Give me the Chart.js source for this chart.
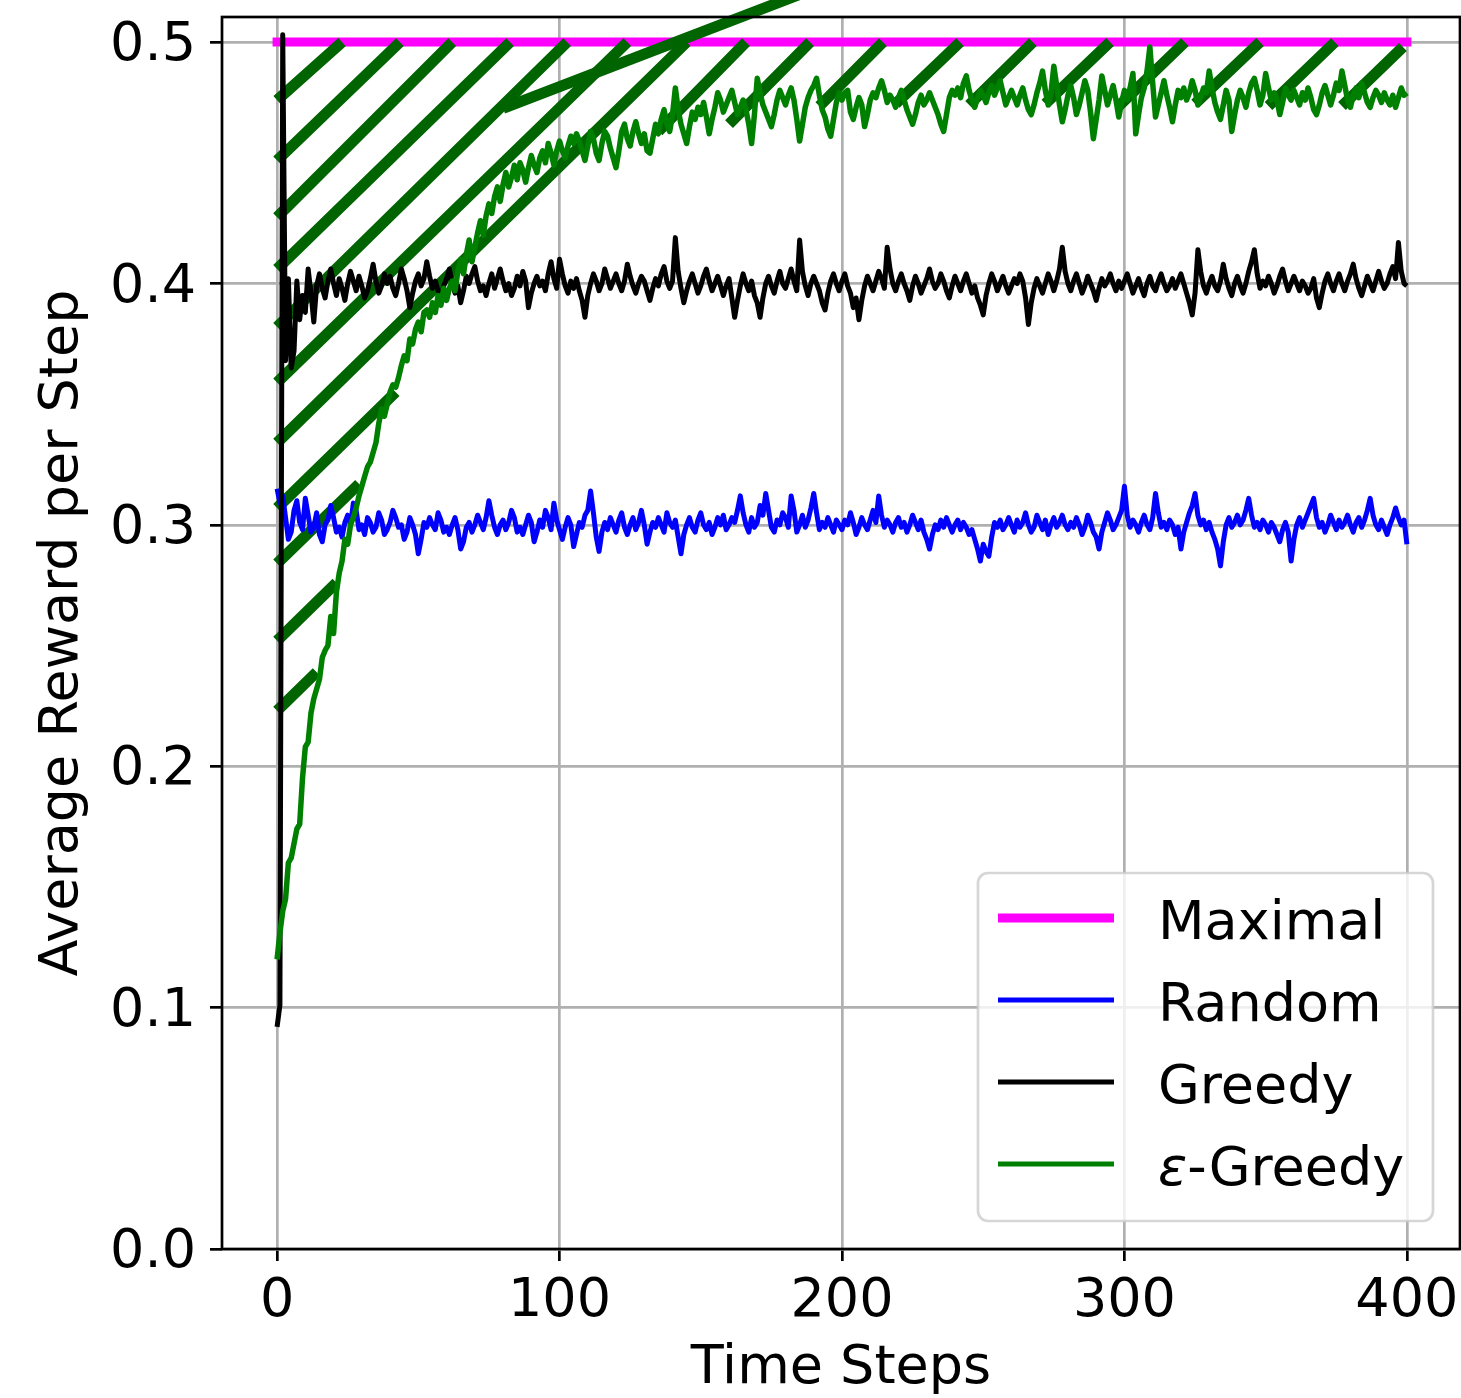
<!DOCTYPE html>
<html>
<head>
<meta charset="utf-8">
<script src="https://cdn.jsdelivr.net/npm/chart.js@4.4.1/dist/chart.umd.min.js"></script>
<style>
  html, body { margin: 0; padding: 0; background: #fff; }
</style>
</head>
<body>
<canvas id="chart" width="1461" height="1398"></canvas>
<script>
// Average reward per step for four bandit strategies, 400 time steps.
// Values are in thousandths, one per time step (index = step).

const FONT = 'DejaVu Sans';

const X_TICKS = [0, 100, 200, 300, 400];
const Y_TICKS = [0, 0.1, 0.2, 0.3, 0.4, 0.5];
const X_MIN = -19.5, X_MAX = 418.8;
const Y_MIN = 0, Y_MAX = 0.5104;

const MAXIMAL = [[0, 0.5], [400, 0.5]];

const RANDOM = [
  315, 309, 312, 303, 294, 297, 306, 310, 301, 298, 311, 304, 297, 299, 305, 296, 293, 300, 302, 308,
  303, 297, 299, 295, 301, 304, 300, 309, 306, 298, 300, 296, 303, 301, 297, 299, 305, 302, 296, 298,
  301, 306, 303, 299, 300, 294, 297, 303, 300, 296, 288, 294, 301, 299, 303, 300, 298, 305, 302, 297,
  299, 296, 300, 303, 298, 290, 293, 299, 301, 297, 300, 304, 301, 298, 303, 310, 304, 299, 296, 300,
  302, 298, 301, 306, 303, 297, 299, 296, 300, 304, 301, 293, 297, 302, 299, 306, 303, 298, 309, 302,
  298, 294, 299, 303, 300, 291, 296, 301, 299, 304, 306, 314, 305, 295, 289, 297, 301, 298, 303, 300,
  297, 302, 305, 299, 296, 300, 303, 298, 301, 306, 300, 292, 297, 301, 299, 303, 300, 297, 305, 301,
  299, 302, 295, 288, 296, 300, 303, 299, 297, 302, 305, 300, 298, 301, 296, 299, 303, 300, 304, 298,
  300, 303, 301, 306, 312, 305, 300, 297, 303, 299, 301, 308, 304, 313, 306, 299, 297, 302, 300, 305,
  303, 299, 312, 306, 297, 300, 304, 299, 302, 307, 313, 305, 298, 301, 299, 303, 300, 297, 302, 300,
  298, 302, 300, 305, 301, 296, 299, 303, 300, 298, 302, 306, 301, 312, 304, 299, 302, 300, 297, 301,
  303, 299, 301, 297, 300, 304, 301, 298, 302, 297, 294, 290, 296, 300, 298, 302, 299, 303, 300, 297,
  300, 302, 298, 301, 299, 296, 298, 294, 290, 285, 292, 289, 287, 295, 301, 299, 302, 298, 300, 303,
  300, 297, 302, 299, 301, 305, 300, 297, 299, 304, 301, 298, 302, 296, 300, 303, 299, 301, 304, 300,
  298, 301, 299, 303, 300, 296, 299, 304, 301, 297, 295, 290, 297, 301, 305, 302, 298, 300, 303, 306,
  316, 304, 299, 302, 300, 297, 301, 304, 300, 298, 303, 313, 305, 299, 301, 298, 302, 300, 296, 299,
  290, 297, 301, 305, 308, 313, 304, 300, 302, 298, 301, 297, 294, 290, 283, 293, 300, 303, 299, 301,
  304, 300, 302, 306, 311, 304, 299, 301, 298, 302, 300, 297, 301, 299, 296, 293, 298, 301, 297, 285,
  294, 300, 303, 299, 302, 305, 308, 311, 303, 299, 301, 297, 300, 304, 301, 298, 302, 299, 301, 304,
  300, 297, 301, 303, 299, 302, 306, 311, 304, 300, 298, 302, 299, 296, 300, 303, 307, 303, 300, 302,
  292
];

const GREEDY = [
  92, 101, 503, 368, 402, 365, 372, 401, 385, 395, 388, 406, 396, 384, 399, 404, 398, 394, 401, 406,
  400, 395, 402, 398, 393, 400, 405, 401, 397, 403, 399, 394, 397, 402, 408, 401, 396, 399, 404, 400,
  403, 398, 395, 400, 406, 402, 397, 390, 396, 401, 404, 399, 402, 409, 403, 398, 401, 397, 394, 399,
  402, 406, 400, 396, 399, 392, 397, 403, 400, 404, 407, 401, 397, 399, 395, 400, 404, 398, 402, 406,
  401, 397, 400, 395, 398, 403, 399, 405, 401, 390, 396, 400, 403, 399, 401, 397, 404, 409, 402, 398,
  410, 404, 399, 396, 401, 398, 402, 397, 393, 386, 395, 400, 404, 401, 397, 400, 406, 402, 398, 401,
  404, 400, 397, 401, 408, 403, 399, 396, 400, 403, 401, 397, 393, 398, 402, 399, 404, 407, 401, 398,
  401, 419, 405, 398, 392, 397, 401, 404, 400, 396, 399, 403, 406, 401, 397, 400, 403, 399, 395, 399,
  402, 394, 386, 393, 399, 404, 400, 397, 401, 395, 392, 386, 394, 400, 403, 399, 396, 401, 405, 400,
  398, 402, 406, 401, 397, 418, 405, 399, 395, 400, 403, 400, 397, 392, 389, 396, 401, 404, 400, 397,
  401, 404, 399, 396, 390, 394, 385, 393, 399, 403, 400, 397, 401, 405, 402, 398, 415, 406, 400, 397,
  401, 404, 400, 397, 393, 399, 403, 400, 396, 399, 402, 406, 401, 398, 400, 404, 401, 397, 394, 399,
  403, 400, 397, 401, 404, 400, 396, 399, 394, 391, 387, 395, 400, 404, 401, 397, 400, 403, 399, 396,
  399, 402, 400, 404, 401, 394, 383, 392, 398, 402, 399, 396, 400, 404, 401, 397, 401, 406, 415, 405,
  400, 397, 401, 404, 400, 396, 399, 403, 400, 397, 393, 398, 402, 399, 401, 404, 400, 397, 401, 398,
  401, 404, 400, 396, 399, 402, 398, 395, 400, 403, 399, 397, 401, 404, 400, 397, 399, 402, 398, 401,
  404, 400, 396, 392, 387, 396, 414, 405, 399, 396, 400, 403, 399, 397, 401, 408, 402, 398, 395, 400,
  403, 399, 396, 400, 405, 409, 414, 404, 398, 401, 399, 403, 400, 396, 399, 403, 406, 401, 397, 400,
  403, 400, 397, 401, 399, 396, 398, 402, 394, 390, 396, 401, 404, 400, 397, 401, 404, 400, 397, 401,
  404, 408, 402, 398, 395, 399, 403, 400, 397, 401, 405, 401, 398, 400, 404, 407, 402, 417, 405, 400,
  399
];

const EPS_GREEDY = [
  120, 131, 140, 145, 160, 162, 168, 174, 176, 195, 208, 210, 222, 228, 232, 236, 245, 248, 250, 262,
  255, 272, 280, 285, 294, 292, 300, 303, 307, 312, 316, 320, 324, 326, 330, 334, 342, 348, 345, 350,
  355, 358, 357, 361, 366, 370, 368, 377, 375, 381, 384, 380, 388, 389, 386, 392, 388, 395, 391, 398,
  393, 398, 401, 397, 405, 410, 404, 412, 418, 409, 415, 421, 426, 420, 428, 433, 429, 436, 440, 434,
  441, 446, 440, 444, 449, 443, 450, 447, 442, 448, 453, 449, 446, 452, 455, 450, 458, 454, 449, 455,
  459, 455, 452, 457, 461, 458, 462, 459, 455, 451, 457, 463, 460, 454, 451, 458, 463, 461, 456, 452,
  448, 455, 463, 466, 460, 457, 463, 467, 462, 458, 462, 455, 454, 460, 466, 462, 468, 472, 466, 463,
  470, 481, 472, 466, 462, 458, 465, 471, 468, 473, 470, 475, 469, 462, 468, 473, 479, 476, 471, 474,
  477, 480, 475, 470, 473, 476, 472, 466, 458, 470, 485, 479, 474, 471, 468, 465, 470, 476, 480, 477,
  474, 478, 481, 476, 468, 459, 466, 473, 477, 480, 482, 485, 478, 472, 469, 464, 461, 468, 475, 479,
  476, 479, 480, 471, 468, 473, 477, 474, 465, 470, 476, 479, 477, 481, 484, 480, 475, 478, 476, 473,
  477, 480, 476, 472, 469, 466, 470, 475, 478, 474, 476, 479, 476, 473, 470, 466, 463, 470, 477, 480,
  478, 481, 477, 483, 486, 480, 476, 473, 477, 480, 478, 475, 479, 482, 478, 481, 484, 479, 474, 477,
  480, 477, 474, 478, 481, 476, 472, 470, 474, 479, 483, 488, 480, 474, 479, 490, 482, 474, 467, 472,
  478, 482, 477, 470, 474, 479, 484, 480, 471, 460, 468, 476, 486, 480, 474, 478, 482, 476, 469, 475,
  480, 476, 481, 487, 462, 470, 477, 481, 488, 498, 483, 469, 474, 479, 484, 478, 473, 467, 474, 480,
  477, 481, 476, 479, 484, 480, 474, 477, 481, 479, 488, 481, 475, 471, 468, 474, 480, 476, 463, 470,
  476, 480, 477, 473, 479, 483, 485, 480, 474, 478, 487, 481, 476, 479, 476, 470, 475, 481, 478, 476,
  480, 477, 474, 479, 476, 481, 477, 472, 470, 474, 479, 482, 478, 474, 478, 483, 480, 488, 482, 476,
  473, 478, 481, 477, 483, 479, 475, 473, 477, 480, 478, 475, 479, 476, 474, 478, 473, 477, 481, 478,
  479
];

// Diagonal hatch strokes between the eps-greedy curve and the maximum: [x0, y0, x1, y1]
const HATCH_SEGMENTS = [
  [0, 0.476, 23, 0.500],
  [0, 0.451, 43.5, 0.500],
  [0, 0.4275, 62, 0.500],
  [0, 0.406, 82.5, 0.500],
  [0, 0.382, 102.7, 0.500],
  [0, 0.359, 124, 0.500],
  [0, 0.334, 145, 0.500],
  [0, 0.307, 42, 0.355],
  [135, 0.463, 166, 0.500],
  [0, 0.284, 29, 0.317],
  [160, 0.466, 188.7, 0.500],
  [0, 0.252, 21, 0.276],
  [192, 0.4735, 214.5, 0.500],
  [0, 0.223, 14, 0.239],
  [219, 0.4745, 241.8, 0.500],
  [245, 0.474, 267.6, 0.500],
  [272, 0.4745, 294.9, 0.500],
  [298, 0.4735, 321.4, 0.500],
  [325, 0.4745, 348, 0.500],
  [351, 0.4735, 374.5, 0.500],
  [377, 0.4735, 398.6, 0.498]
];

// The heavy straight stroke that leaves the top of the axes
const THICK_STROKE = [[80, 0.4725], [190, 0.522]];

// ── Build datasets ───────────────────────────────────────────────────────────

const toPoints = arr => arr.map((v, i) => ({ x: i, y: v / 1000 }));
const pairs = arr => arr.map(([x, y]) => ({ x, y }));

const hatchData = [];
HATCH_SEGMENTS.forEach(([x0, y0, x1, y1]) => {
  hatchData.push({ x: x0, y: y0 }, { x: x1, y: y1 }, { x: x1, y: null });
});

const lineBase = {
  pointRadius: 0,
  pointHoverRadius: 0,
  tension: 0,
  fill: false,
  borderJoinStyle: 'round',
  borderCapStyle: 'butt'
};

const datasets = [
  { ...lineBase, label: 'Maximal', data: pairs(MAXIMAL), borderColor: '#ff00ff',
    borderWidth: 9, borderCapStyle: 'square', legendWidth: 9, order: 7 },
  { ...lineBase, label: 'Random', data: toPoints(RANDOM), borderColor: '#0000ff',
    borderWidth: 5, legendWidth: 5, order: 3 },
  { ...lineBase, label: 'Greedy', data: toPoints(GREEDY), borderColor: '#000000',
    borderWidth: 5, legendWidth: 5, order: 2 },
  { ...lineBase, label: 'ε-Greedy', data: toPoints(EPS_GREEDY), borderColor: '#008000',
    borderWidth: 5.5, legendWidth: 5, order: 1 },
  { ...lineBase, data: hatchData, borderColor: '#006400', borderWidth: 11,
    spanGaps: false, order: 6 },
  { ...lineBase, data: pairs(THICK_STROKE), borderColor: '#006400', borderWidth: 11,
    clip: false, order: 4 }
];

// ── Frame (spines) and matplotlib-style legend ───────────────────────────────

function roundRectPath(ctx, x, y, w, h, r) {
  ctx.beginPath();
  ctx.moveTo(x + r, y);
  ctx.arcTo(x + w, y, x + w, y + h, r);
  ctx.arcTo(x + w, y + h, x, y + h, r);
  ctx.arcTo(x, y + h, x, y, r);
  ctx.arcTo(x, y, x + w, y, r);
  ctx.closePath();
}

const mplFrame = {
  id: 'mplFrame',
  afterDatasetsDraw(chart) {
    const { ctx, chartArea: a } = chart;
    ctx.save();
    ctx.strokeStyle = '#000';
    ctx.lineWidth = 2.7;
    ctx.strokeRect(a.left, a.top, a.right - a.left, a.bottom - a.top);
    ctx.restore();
  },
  afterDraw(chart) {
    const { ctx, chartArea: a } = chart;
    const items = chart.data.datasets.filter(d => d.label);
    const w = 455, h = 348;
    const left = a.right - 27 - w, top = a.bottom - 28 - h;

    ctx.save();
    roundRectPath(ctx, left, top, w, h, 10);
    ctx.fillStyle = 'rgba(255,255,255,0.8)';
    ctx.fill();
    ctx.strokeStyle = 'rgba(204,204,204,0.8)';
    ctx.lineWidth = 2.7;
    ctx.stroke();

    items.forEach((d, i) => {
      const y = top + 45 + i * 82;
      ctx.beginPath();
      ctx.moveTo(left + 20, y);
      ctx.lineTo(left + 136, y);
      ctx.strokeStyle = d.borderColor;
      ctx.lineWidth = d.legendWidth;
      ctx.lineCap = 'butt';
      ctx.stroke();

      ctx.fillStyle = '#000';
      ctx.textBaseline = 'alphabetic';
      let tx = left + 180;
      const ty = y + 21;
      let text = d.label;
      if (text.startsWith('ε')) {
        ctx.font = `italic 54px "${FONT}"`;
        ctx.fillText('ε', tx, ty);
        tx += ctx.measureText('ε').width;
        text = text.slice(1);
      }
      ctx.font = `54px "${FONT}"`;
      ctx.fillText(text, tx, ty);
    });
    ctx.restore();
  }
};

// ── Chart ────────────────────────────────────────────────────────────────────

const gridOpts = {
  color: '#b0b0b0',
  lineWidth: 2.7,
  drawTicks: true,
  tickLength: 12,
  tickColor: '#000',
  tickWidth: 2.7
};

// fixed axes box like matplotlib: ignore tick-label overflow padding
function noOverflow(s) {
  s.paddingTop = 0;
  s.paddingBottom = 0;
  s.paddingLeft = 0;
  s.paddingRight = 0;
}

new Chart(document.getElementById('chart').getContext('2d'), {
  type: 'line',
  data: { datasets },
  plugins: [mplFrame],
  options: {
    responsive: false,
    animation: false,
    events: [],
    layout: { padding: { top: 17, right: 1, left: 0, bottom: 0 } },
    plugins: {
      legend: { display: false },
      tooltip: { enabled: false }
    },
    scales: {
      x: {
        type: 'linear',
        min: X_MIN,
        max: X_MAX,
        afterBuildTicks: s => { s.ticks = X_TICKS.map(v => ({ value: v })); },
        afterFit: s => { s.height = 149; noOverflow(s); },
        grid: gridOpts,
        border: { display: false },
        ticks: {
          color: '#000',
          font: { family: FONT, size: 54 },
          padding: 9,
          maxRotation: 0,
          autoSkip: false,
          callback: v => String(v)
        },
        title: {
          display: true,
          text: 'Time Steps',
          color: '#000',
          font: { family: FONT, size: 54 },
          padding: { top: 0, bottom: -3 }
        }
      },
      y: {
        type: 'linear',
        min: Y_MIN,
        max: Y_MAX,
        afterBuildTicks: s => { s.ticks = Y_TICKS.map(v => ({ value: v })); },
        afterFit: s => { s.width = 222; noOverflow(s); },
        grid: gridOpts,
        border: { display: false },
        ticks: {
          color: '#000',
          font: { family: FONT, size: 54 },
          padding: 14,
          labelOffset: 4,
          autoSkip: false,
          callback: v => v.toFixed(1)
        },
        title: {
          display: true,
          text: 'Average Reward per Step',
          color: '#000',
          font: { family: FONT, size: 54 },
          padding: { top: 31, bottom: 0 }
        }
      }
    }
  }
});
</script>
</body>
</html>
